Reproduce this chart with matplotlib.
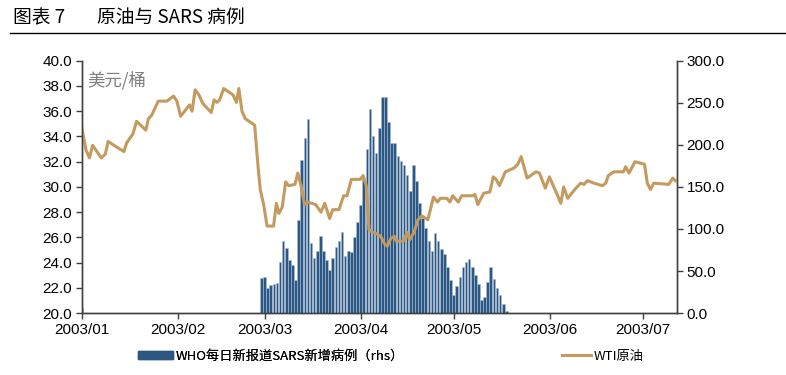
import numpy as np
import pandas as pd
import matplotlib
matplotlib.use("Agg")
import matplotlib.pyplot as plt
import matplotlib.dates as mdates
from matplotlib.patches import Patch
from matplotlib.lines import Line2D

plt.rcParams['font.family'] = ['Noto Sans CJK SC', 'DejaVu Sans']

# WTI crude: days after 2003-01-01 and USD/bbl
oil_day = [0, 1.4, 2.5, 3.5, 6.3, 7.6, 8.5, 13.6, 14.5, 16.5, 17.7, 20.7, 21.5, 22.6,
           24.7, 27.5, 29.6, 30.7, 31.9, 34.8, 35.6, 36.6, 37.8, 39.1, 41.8, 42.7,
           43.6, 44.5, 45.8, 48.8, 49.9, 50.7, 51.7, 52.8, 55.8, 56.9, 57.6, 58.7,
           59.8, 61.9, 62.8, 63.6, 64.7, 65.8, 66.8, 68.8, 69.7, 70.8, 71.9, 73,
           75.5, 77.2, 78.4, 80, 81, 83, 84.5, 85.6, 87, 89.9, 90.8, 91.8, 92.7,
           93.9, 95, 96.4, 97.7, 98.6, 99.7, 100.8, 101.5, 103.8, 105, 105.8, 107.2,
           108.5, 109.8, 111.7, 113.5, 114.8, 115.7, 117.8, 118.8, 119.7, 121.5,
           122.6, 126.1, 126.9, 127.8, 129.7, 131.7, 132.8, 133.7, 134.8, 136.7,
           139.5, 140.7, 141.8, 143.7, 146.6, 147.7, 149.6, 150.9, 153.4, 154.6,
           155.5, 156.8, 159.1, 161, 162.1, 163.2, 165.3, 168, 169.1, 169.9, 171.7,
           174.8, 175.5, 176.6, 178.5, 181.6, 182.5, 183.5, 184.6, 189.4, 190.7, 191.5]
oil_price = [34.7, 32.9, 32.3, 33.3, 32.3, 32.6, 33.6, 32.8, 33.5, 34.2, 35.2, 34.5, 35.4, 35.7,
             36.8, 36.8, 37.2, 36.8, 35.6, 36.5, 36.0, 37.7, 37.3, 36.6, 35.9, 36.9,
             36.7, 36.9, 37.8, 37.3, 36.7, 37.8, 36.0, 35.4, 34.9, 31.6, 29.8, 28.6,
             26.9, 26.9, 28.7, 27.9, 28.4, 30.4, 30.1, 30.2, 31.1, 30.05, 28.6, 28.8,
             28.6, 28.0, 28.7, 27.5, 28.2, 28.2, 29.3, 29.3, 30.6, 30.6, 30.9, 30.1, 26.6,
             26.4, 26.3, 26.1, 25.5, 25.3, 25.9, 26.1, 25.7, 25.7, 26.4, 25.8, 26.4,
             27.4, 27.7, 27.4, 29.2, 28.8, 29.1, 29.1, 28.8, 29.3, 28.8,
             29.3, 29.3, 29.4, 28.6, 29.5, 29.6, 30.8, 30.6, 30.1, 31.2,
             31.5, 31.8, 32.4, 30.7, 31.2, 31.1, 29.9, 30.8, 29.4, 28.7,
             30.0, 29.1, 29.8, 30.3, 30.2, 30.5, 30.3, 30.1, 30.3, 30.9, 31.2,
             31.2, 31.6, 31.1, 32.0, 31.8, 30.3, 29.8, 30.3, 30.2, 30.7, 30.5]

# WHO daily new SARS cases (right axis)
sars_first_day = '2003-02-28'
sars_cases = [42, 43.5, 30, 34, 35, 36.4, 61, 85.5, 77.6, 63.3, 57, 38.8, 110.8, 182.5,
              207.8, 230.8, 83, 65.7, 74.4, 91.8, 74.4, 63.3, 51.5, 65.7, 78.4, 86.3,
              96.6, 68.1, 74.4, 73.2, 91, 108, 128.7, 160, 195, 242.7, 211, 190, 220,
              257, 257, 226.8, 202, 202, 187, 181, 176.6, 164, 145.7, 176.6, 156.8,
              130.6, 112.8, 101.3, 85.5, 74.4, 95, 86.3, 76.4, 69.7, 54.6, 38.8, 21.4,
              32.5, 43.5, 55.4, 60.2, 64.5, 54.6, 45.9, 34.8, 15.8, 19, 36.8, 54.6,
              40.8, 30, 21, 11, 2.8]
early_day = '2003-01-01'
early_cases = 6

oil_color = '#C49A5E'
bar_color = '#2C5783'

start = mdates.date2num(pd.Timestamp('2003-01-01'))
oil_x = start + np.array(oil_day)
sars_x = mdates.date2num(pd.date_range(sars_first_day, periods=len(sars_cases)))
early_x = mdates.date2num(pd.Timestamp(early_day))

fig = plt.figure(figsize=(7.86, 3.75), dpi=100)
ax = fig.add_axes([0.104, 0.165, 0.757, 0.673])
ax2 = ax.twinx()
ax.set_zorder(2)
ax.patch.set_visible(False)

ax2.bar(sars_x, sars_cases, width=0.85, color=bar_color, edgecolor='#A9BFD6', linewidth=0.4)
ax2.bar([early_x], [early_cases], width=0.85, color=bar_color, edgecolor='#A9BFD6', linewidth=0.4)
ax.plot(oil_x, oil_price, color=oil_color, lw=2.2, solid_joinstyle='round')

ax.set_xlim(start, mdates.date2num(pd.Timestamp('2003-07-12')))
ax.set_ylim(20, 40)
ax2.set_ylim(0, 300)
ax.set_yticks(np.arange(20, 40.1, 2))
ax2.set_yticks(np.arange(0, 300.1, 50))
ax.yaxis.set_major_formatter(plt.FormatStrFormatter('%.1f'))
ax2.yaxis.set_major_formatter(plt.FormatStrFormatter('%.1f'))
ax.xaxis.set_major_locator(mdates.MonthLocator())
ax.xaxis.set_major_formatter(mdates.DateFormatter('%Y/%m'))

for a in (ax, ax2):
    a.spines['top'].set_visible(False)
    for s in ('left', 'right', 'bottom'):
        a.spines[s].set_color('#404040')
        a.spines[s].set_linewidth(1.0)
    a.tick_params(direction='out', length=4, width=1, color='#404040', labelsize=11, pad=3)
    for lab in a.get_xticklabels() + a.get_yticklabels():
        lab.set_family(['Liberation Sans', 'DejaVu Sans'])

ax.text(0.01, 0.96, '美元/桶', transform=ax.transAxes, color='#7F7F7F', fontsize=12.5, va='top')

fig.text(0.017, 0.953, '图表 7', fontsize=13.5, va='center', ha='left')
fig.text(0.124, 0.953, '原油与 SARS 病例', fontsize=13.5, va='center', ha='left')
fig.add_artist(Line2D([0.013, 1.0], [0.912, 0.912], color='black', lw=1.0))

leg1 = fig.legend([Patch(facecolor=bar_color, edgecolor=bar_color)],
                  ['WHO每日新报道SARS新增病例（rhs）'], loc='center left',
                  bbox_to_anchor=(0.160, 0.05), frameon=False, fontsize=9.5,
                  handlelength=2.7, handleheight=0.6, handletextpad=0.2)
fig.legend([Line2D([0], [0], color=oil_color, lw=2.2)], ['WTI原油'], loc='center left',
           bbox_to_anchor=(0.700, 0.05), frameon=False, fontsize=9.5,
           handlelength=2.2, handletextpad=0.2)
fig.add_artist(leg1)

fig.savefig('out.png', dpi=100)
